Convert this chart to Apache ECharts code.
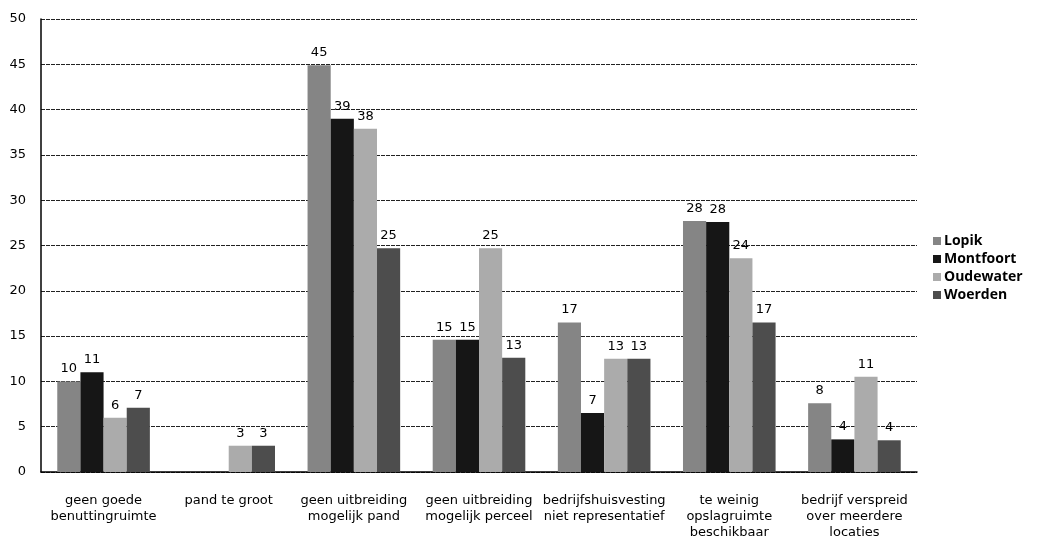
<!DOCTYPE html>
<html>
<head>
<meta charset="utf-8">
<script src="https://cdn.jsdelivr.net/npm/echarts@6/dist/echarts.min.js"></script>
<style>
  html, body { margin: 0; padding: 0; background: #fff; }
  #chart { width: 1058px; height: 544px; }
</style>
</head>
<body>
<div id="chart"></div>
<script>
var chartDom = document.getElementById('chart');
var myChart = echarts.init(chartDom);
var option;

// categories (x axis)
let categories = [
  'geen goede\nbenuttingruimte',
  'pand te groot',
  'geen uitbreiding\nmogelijk pand',
  'geen uitbreiding\nmogelijk perceel',
  'bedrijfshuisvesting\nniet representatief',
  'te weinig\nopslagruimte\nbeschikbaar',
  'bedrijf verspreid\nover meerdere\nlocaties'
];

// values (labels show them rounded)
let lopik      = [10,   0,   44.9, 14.6, 16.5, 27.7, 7.6];
let montfoort  = [11,   0,   39,   14.6, 6.5,  27.6, 3.6];
let oudewater  = [6,    2.9, 37.9, 24.7, 12.5, 23.6, 10.5];
let woerden    = [7.1,  2.9, 24.7, 12.6, 12.5, 16.5, 3.5];

let seriesNames = ['Lopik', 'Montfoort', 'Oudewater', 'Woerden'];
let seriesColors = ['#858585', '#161616', '#ababab', '#4d4d4d'];
let yTicks = [0, 50, 5]; // min, max, interval

function makeSeries(name, values, color) {
  return {
    name: name,
    type: 'bar',
    barGap: '0%',
    barCategoryGap: '26%',
    itemStyle: { color: color },
    label: {
      show: true,
      position: 'top',
      distance: 6,
      color: '#000',
      fontFamily: 'DejaVu Sans',
      fontSize: 13,
      formatter: function (p) {
        return p.value > 0 ? Math.round(p.value) : '';
      }
    },
    data: values
  };
}

option = {
  backgroundColor: '#fff',
  animation: false,
  textStyle: { fontFamily: 'DejaVu Sans' },
  grid: {
    left: 41,
    right: 141,
    top: 19,
    bottom: 72
  },
  legend: {
    orient: 'vertical',
    left: 928,
    top: 229,
    itemWidth: 8,
    itemHeight: 8,
    itemGap: 4,
    icon: 'rect',
    textStyle: {
      fontFamily: 'Open Sans',
      fontWeight: 'bold',
      fontSize: 14,
      color: '#000',
      padding: [0, 0, 0, -2]
    },
    data: seriesNames
  },
  xAxis: {
    type: 'category',
    data: categories,
    axisLine: { lineStyle: { color: '#000', width: 1.5 } },
    axisTick: { show: false },
    axisLabel: {
      interval: 0,
      margin: 21,
      color: '#000',
      fontFamily: 'DejaVu Sans',
      fontSize: 13,
      lineHeight: 16
    }
  },
  yAxis: {
    type: 'value',
    min: yTicks[0],
    max: yTicks[1],
    interval: yTicks[2],
    axisLine: { show: true, lineStyle: { color: '#000', width: 1.5 } },
    axisTick: { show: false },
    axisLabel: {
      margin: 15,
      color: '#000',
      fontFamily: 'DejaVu Sans',
      fontSize: 13
    },
    splitLine: {
      lineStyle: { color: '#222', type: [4, 1], width: 1 }
    }
  },
  series: [
    makeSeries(seriesNames[0], lopik, seriesColors[0]),
    makeSeries(seriesNames[1], montfoort, seriesColors[1]),
    makeSeries(seriesNames[2], oudewater, seriesColors[2]),
    makeSeries(seriesNames[3], woerden, seriesColors[3])
  ]
};

option && myChart.setOption(option);
</script>
</body>
</html>
